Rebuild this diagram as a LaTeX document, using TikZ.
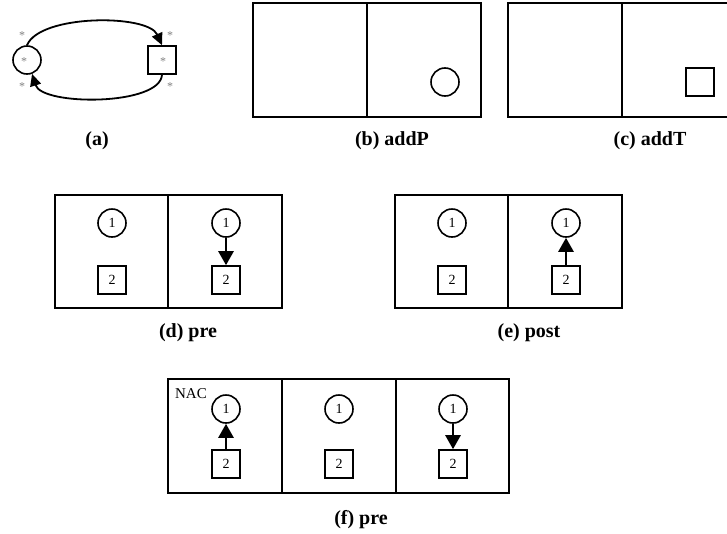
\documentclass[tikz,border=0pt]{standalone}
\usepackage{fontspec}
\setmainfont{Liberation Serif}
\usetikzlibrary{arrows.meta}
\tikzset{
  frame/.style={draw, line width=2pt},
  place/.style={draw, circle, line width=1.6pt, minimum size=28pt, inner sep=0pt,
    font=\fontsize{14}{16}\selectfont},
  trans/.style={draw, rectangle, line width=1.6pt, minimum size=28pt, inner sep=0pt,
    font=\fontsize{14}{16}\selectfont},
  caption/.style={font=\fontsize{20}{24}\selectfont\bfseries, inner sep=0pt},
  flow/.style={line width=2.6pt, -{Triangle[length=14pt,width=15pt]}},
  loopflow/.style={line width=1.8pt, -{Triangle[length=12pt,width=11pt]}},
  star/.style={text=gray, font=\fontsize{12}{12}\selectfont, inner sep=0pt},
  tag/.style={font=\fontsize{15}{16}\selectfont, inner sep=0pt},
}
\begin{document}
\begin{tikzpicture}[x=1pt, y=-1pt]
\useasboundingbox (0,0) rectangle (727,533);

% (a) generic place and transition with multiplicities
\node[place] (ap) at (27,60) {};
\node[trans] (at) at (162,60) {};
\node[star] (s1) at (24,62) {*};
\node[star] (s2) at (163,62) {*};
\node[star] (s3) at (22,36) {*};
\node[star] (s4) at (170,36) {*};
\node[star] (s5) at (22,87) {*};
\node[star] (s6) at (170,87) {*};
\draw[loopflow] (ap.north) .. controls (40,14) and (148,14) .. (at.north);
\draw[loopflow] (at.south) .. controls (160,106) and (42,106) .. (ap.-70);
\node[caption] (capa) at (97,141) {(a)};

% (b) addP
\draw[frame] (253,3) rectangle (481,117);
\draw[frame] (367,3) -- (367,117);
\node[place] (bp) at (445,82) {};
\node[caption] (capb) at (392,141) {(b) addP};

% (c) addT
\draw[frame] (508,3) rectangle (736,117);
\draw[frame] (622,3) -- (622,117);
\node[trans] (ct) at (700,82) {};
\node[caption] (capc) at (650,141) {(c) addT};

% (d) pre
\draw[frame] (55,195) rectangle (282,308);
\draw[frame] (168,195) -- (168,308);
\node[place] (dl1) at (112,223) {1};
\node[trans] (dl2) at (112,280) {2};
\node[place] (dr1) at (226,223) {1};
\node[trans] (dr2) at (226,280) {2};
\draw[flow] (dr1) -- (dr2);
\node[caption] (capd) at (188,333) {(d) pre};

% (e) post
\draw[frame] (395,195) rectangle (622,308);
\draw[frame] (508,195) -- (508,308);
\node[place] (el1) at (452,223) {1};
\node[trans] (el2) at (452,280) {2};
\node[place] (er1) at (566,223) {1};
\node[trans] (er2) at (566,280) {2};
\draw[flow] (er2) -- (er1);
\node[caption] (cape) at (529,333) {(e) post};

% (f) pre with negative application condition
\draw[frame] (168,379) rectangle (509,493);
\draw[frame] (282,379) -- (282,493);
\draw[frame] (396,379) -- (396,493);
\node[tag] (nac) at (191,394) {NAC};
\node[place] (fa1) at (226,409) {1};
\node[trans] (fa2) at (226,464) {2};
\node[place] (fb1) at (339,409) {1};
\node[trans] (fb2) at (339,464) {2};
\node[place] (fc1) at (453,409) {1};
\node[trans] (fc2) at (453,464) {2};
\draw[flow] (fa2) -- (fa1);
\draw[flow] (fc1) -- (fc2);
\node[caption] (capf) at (361,520) {(f) pre};
\end{tikzpicture}
\end{document}
